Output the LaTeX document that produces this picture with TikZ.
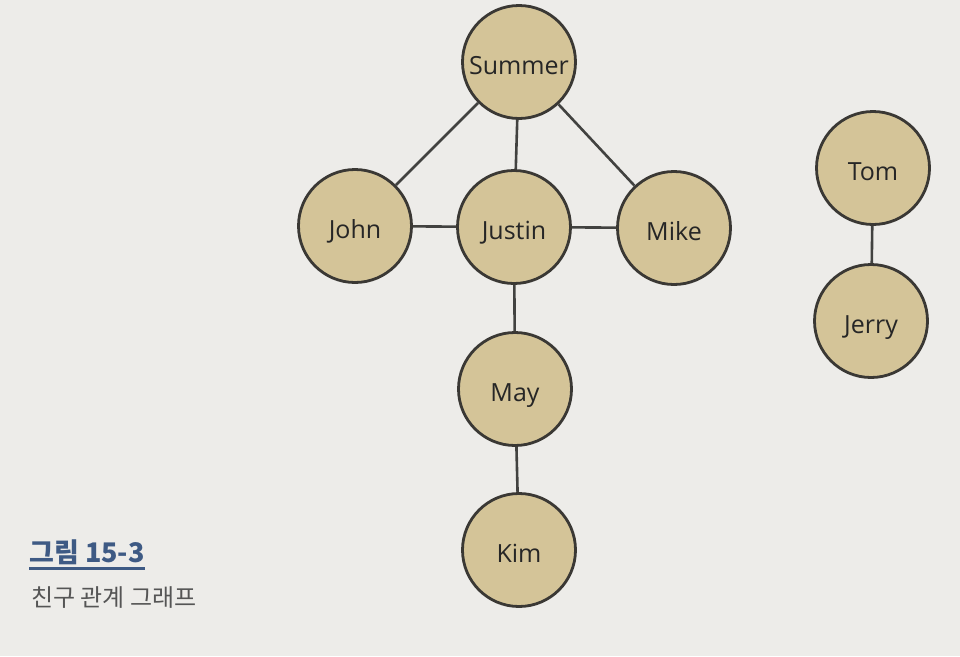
\documentclass[tikz,border=0pt]{standalone}
\usepackage{fontspec}
\setmainfont{Open Sans}
\newfontfamily\cjk{Noto Sans CJK KR}
\definecolor{bg}{RGB}{237,236,233}
\definecolor{nodefill}{RGB}{212,196,152}
\definecolor{nodeline}{RGB}{58,56,52}
\definecolor{edgecol}{RGB}{66,66,64}
\definecolor{capblue}{RGB}{62,90,132}
\definecolor{capgray}{RGB}{85,85,85}
\begin{document}
\begin{tikzpicture}[x=1pt,y=-1pt,
  person/.style={circle,draw=nodeline,fill=nodefill,line width=2.8pt,minimum size=113pt,inner sep=0pt,text height=24pt,text depth=0pt,font=\fontsize{25}{28}\selectfont,text=black!85},
  link/.style={draw=edgecol,line width=2.6pt}]
\fill[bg] (0,0) rectangle (960,656);
\useasboundingbox (0,0) rectangle (960,656);
\node[person] (summer) at (519,62) {Summer};
\node[person] (john) at (355,226) {John};
\node[person] (justin) at (514,227) {Justin};
\node[person] (mike) at (674,228) {Mike};
\node[person] (may) at (515,389) {May};
\node[person] (kim) at (519,550) {Kim};
\node[person] (tom) at (873,168) {Tom};
\node[person] (jerry) at (871,321) {Jerry};
\path[link] (summer) -- (john);
\path[link] (summer) -- (justin);
\path[link] (summer) -- (mike);
\path[link] (john) -- (justin);
\path[link] (justin) -- (mike);
\path[link] (justin) -- (may);
\path[link] (may) -- (kim);
\path[link] (tom) -- (jerry);
\node[anchor=base west,inner sep=0pt,font=\cjk\bfseries\fontsize{27}{30}\selectfont,text=capblue] (fig) at (29,562) {그림 15-3};
\draw[capblue,line width=2.2pt] ([yshift=-4pt]fig.south west) coordinate (ul1) -- ([yshift=-4pt]fig.south east) coordinate (ul2);
\node[anchor=base west,inner sep=0pt,font=\cjk\fontsize{24}{28}\selectfont,text=capgray] (cap) at (31,606) {친구 관계 그래프};
\end{tikzpicture}
\end{document}
